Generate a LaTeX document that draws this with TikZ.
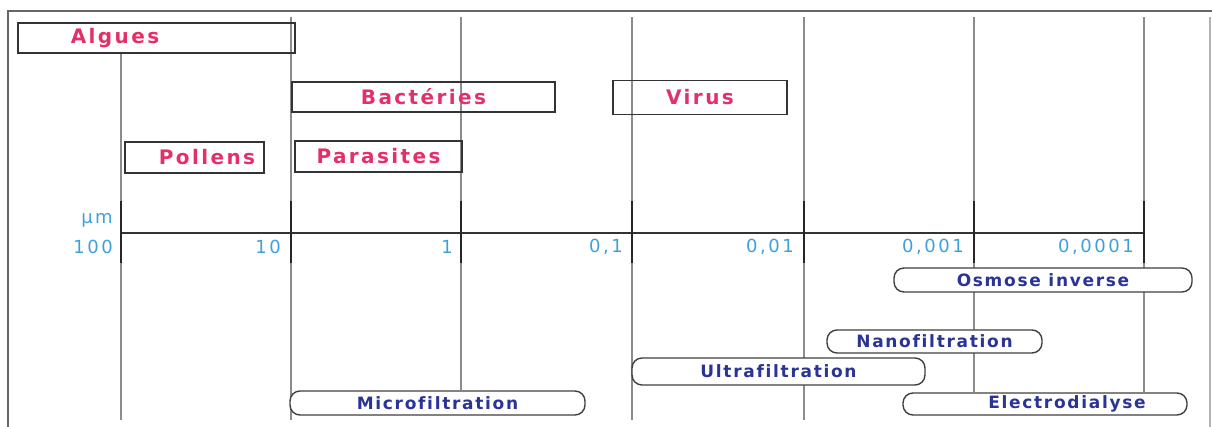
\documentclass[tikz,border=0pt]{standalone}
\usepackage{fontspec}
\usetikzlibrary{backgrounds}
\setmainfont{DejaVu Sans}
\newfontfamily\organismfont[LetterSpace=12]{DejaVu Sans}
\newfontfamily\processfont[LetterSpace=10,Ligatures={NoCommon}]{DejaVu Sans}
\newfontfamily\axisfont[LetterSpace=14]{DejaVu Sans}
\definecolor{orgpink}{RGB}{228,48,104}
\definecolor{procblue}{RGB}{42,52,150}
\definecolor{axisblue}{RGB}{62,160,218}
\begin{document}
\begin{tikzpicture}[x=1pt,y=-1pt,
  organism/.style={text=orgpink, font={\organismfont\bfseries\fontsize{20}{24}\selectfont}},
  process/.style={text=procblue, font={\processfont\bfseries\fontsize{17}{20}\selectfont}},
  axisnum/.style={text=axisblue, font={\axisfont\fontsize{18}{21}\selectfont}, inner sep=0pt, anchor=east},
  tagbox/.style={draw=black!80, line width=1.8pt, inner sep=0pt, organism},
  procbox/.style={draw=black!75, line width=1.4pt, rounded corners=10pt, fill=white, inner sep=0pt, process},
  gridline/.style={draw=black!45, line width=1.3pt},
  tickmark/.style={draw=black!85, line width=2.4pt},
  frameline/.style={draw=black!60, line width=1.4pt}]
\useasboundingbox (0,0) rectangle (1212,427);

% outer frame
\coordinate (fTL) at (8,11);
\coordinate (fTR) at (1212,11);
\coordinate (fBL) at (8,427);
\coordinate (fRT) at (1210,17);
\coordinate (fRB) at (1210,427);
\draw[frameline] (fTR) -- (fTL) -- (fBL);
\draw[frameline, draw=black!30] (fRT) -- (fRB);

% organism boxes
\node[tagbox, minimum width=277, minimum height=30, label={[organism, xshift=-41.5]center:Algues}] (algues) at (156.5,38) {};
\node[tagbox, minimum width=263, minimum height=30] (bact) at (423.5,97) {Bactéries};
\node[tagbox, minimum width=174, minimum height=34] (virus) at (700,97.5) {Virus};
\node[tagbox, minimum width=139, minimum height=31, label={[organism, xshift=12.5]center:Pollens}] (pollens) at (194.5,157.5) {};
\node[tagbox, minimum width=167, minimum height=31] (paras) at (378.5,156.5) {Parasites};

% process boxes
\node[procbox, minimum width=298, minimum height=24] (osmose) at (1043,280) {Osmose inverse};
\node[procbox, minimum width=215, minimum height=23] (nano) at (934.5,341.5) {Nanofiltration};
\node[procbox, minimum width=293, minimum height=27] (ultra) at (778.5,371.5) {Ultrafiltration};
\node[procbox, minimum width=295, minimum height=24] (micro) at (437.5,403) {Microfiltration};
\node[procbox, minimum width=284, minimum height=22, label={[process, xshift=22]center:Electrodialyse}] (electro) at (1045,404) {};

% scale positions
\foreach \n/\x in {1/121,2/291,3/461,4/632,5/804,6/974,7/1144}{
  \coordinate (t\n) at (\x,233);
  \coordinate (top\n) at (\x,17);
  \coordinate (bot\n) at (\x,420);
}

% vertical grid lines, kept behind the boxes
\begin{scope}[on background layer]
\draw[gridline] (algues.south -| t1) -- (bot1);
\draw[gridline] (top2) -- (bot2);
\draw[gridline] (top3) -- (micro.north -| t3);
\draw[gridline] (top4) -- (bot4);
\draw[gridline] (top5) -- (bot5);
\draw[gridline] (top6) -- (electro.north -| t6);
\draw[gridline] (top7) -- (electro.north -| t7);
\end{scope}

% axis and ticks
\draw[draw=black!80, line width=1.6pt] (t1) -- (t7);
\foreach \n in {1,...,7}{
  \draw[tickmark] ([yshift=-30]t\n) -- ([yshift=32]t\n);
}

% scale labels
\node[axisnum] (unit) at (113,220) {µm};
\node[axisnum] (l1) at (113,247) {100};
\node[axisnum] (l2) at (281,247) {10};
\node[axisnum] (l3) at (453,247) {1};
\node[axisnum] (l4) at (623,247) {0,1};
\node[axisnum] (l5) at (794,247) {0,01};
\node[axisnum] (l6) at (964,247) {0,001};
\node[axisnum] (l7) at (1134,247) {0,0001};
\end{tikzpicture}
\end{document}
